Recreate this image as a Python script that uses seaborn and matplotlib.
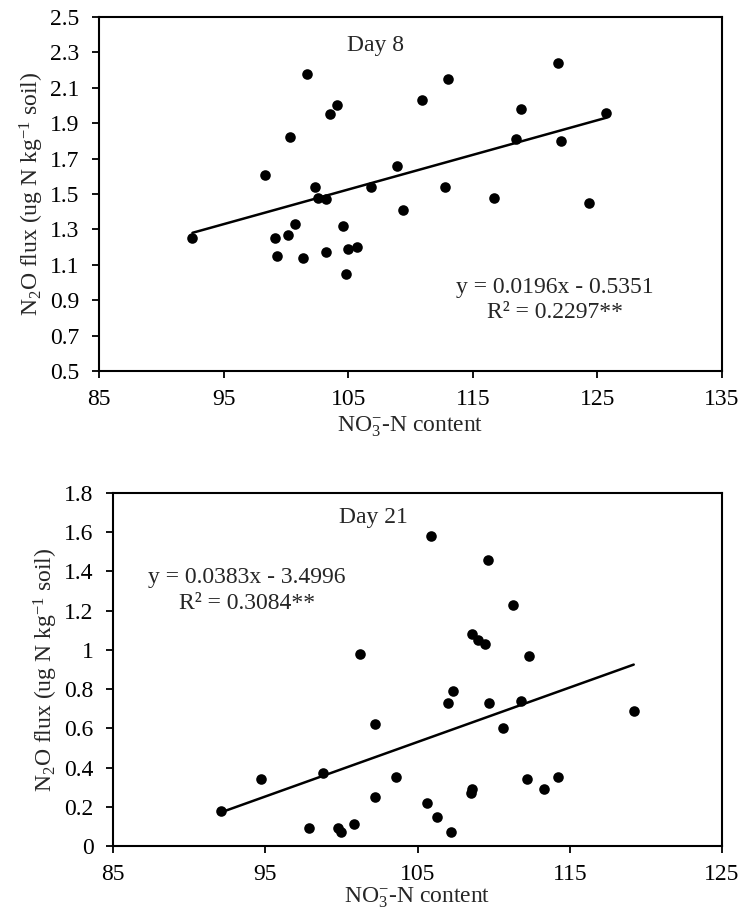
import numpy as np
import pandas as pd
import seaborn as sns
import matplotlib.pyplot as plt
from matplotlib.ticker import FuncFormatter

# Day 8 : NO3-N content vs N2O flux
day8_no3 = [92.5, 98.3, 99.1, 99.3, 100.2, 100.3, 100.7, 101.4, 101.7, 102.3, 102.6,
            103.2, 103.2, 103.5, 104.1, 104.6, 104.8, 105.0, 105.7, 106.8, 108.9,
            109.4, 110.9, 112.8, 113.0, 116.7, 118.5, 118.9, 121.8, 122.1, 124.3, 125.7]
day8_n2o = [1.25, 1.61, 1.25, 1.15, 1.27, 1.82, 1.33, 1.14, 2.18, 1.54, 1.48,
            1.47, 1.17, 1.95, 2.00, 1.32, 1.05, 1.19, 1.20, 1.54, 1.66,
            1.41, 2.03, 1.54, 2.15, 1.48, 1.81, 1.98, 2.24, 1.80, 1.45, 1.96]

# Day 21
day21_no3 = [92.1, 94.7, 97.9, 98.8, 99.8, 100.0, 100.8, 101.2, 102.2, 102.2, 103.6,
             105.6, 105.9, 106.3, 107.0, 107.2, 107.3, 108.5, 108.6, 108.6, 109.0,
             109.4, 109.6, 109.7, 110.6, 111.3, 111.8, 112.2, 112.3, 113.3, 114.2, 119.2]
day21_n2o = [0.18, 0.34, 0.09, 0.37, 0.09, 0.07, 0.11, 0.98, 0.62, 0.25, 0.35,
             0.22, 1.58, 0.15, 0.73, 0.07, 0.79, 0.27, 0.29, 1.08, 1.05,
             1.03, 1.46, 0.73, 0.60, 1.23, 0.74, 0.34, 0.97, 0.29, 0.35, 0.69]

eq8 = ["y = 0.0196x - 0.5351", "R\u00b2 = 0.2297**"]
eq21 = ["y = 0.0383x - 3.4996", "R\u00b2 = 0.3084**"]

sns.set_style("ticks")
plt.rcParams['font.family'] = ['Liberation Serif', 'DejaVu Serif']
plt.rcParams['mathtext.fontset'] = 'custom'
plt.rcParams['mathtext.rm'] = 'Liberation Serif'
plt.rcParams['mathtext.it'] = 'Liberation Serif:italic'
FS = 17

fig = plt.figure(figsize=(7.41, 9.09), dpi=100)
ax1 = fig.add_axes([0.1336, 0.5919, 0.8408, 0.3894])
ax2 = fig.add_axes([0.1525, 0.0693, 0.8219, 0.3883])

ylab = "N$_2$O flux (ug N kg$^{-1}$ soil)"
xlab = "NO$_3^{-}$-N content"
fmt = FuncFormatter(lambda v, p: "{:g}".format(round(v, 2)))

panels = [
    (ax1, day8_no3, day8_n2o, "Day 8", eq8, (85, 135, 10), (0.5, 2.5, 0.2),
     (0.444, 0.92), (0.732, 0.237, 0.164), 3),
    (ax2, day21_no3, day21_n2o, "Day 21", eq21, (85, 125, 10), (0, 1.8, 0.2),
     (0.428, 0.93), (0.22, 0.762, 0.688), 0),
]

for ax, xs, ys, title, eq, xr, yr, tpos, epos, xpad in panels:
    df = pd.DataFrame({"no3": xs, "n2o": ys})
    sns.regplot(data=df, x="no3", y="n2o", ax=ax, scatter=False, ci=None,
                color="black", line_kws={"lw": 1.8})
    sns.scatterplot(data=df, x="no3", y="n2o", ax=ax, color="black", s=58,
                    edgecolor="black", linewidth=0, zorder=3)
    ax.set_xlim(xr[0], xr[1])
    ax.set_ylim(yr[0], yr[1])
    ax.set_xticks(np.arange(xr[0], xr[1] + 0.1, xr[2]))
    ax.set_yticks(np.arange(yr[0], yr[1] + 0.01, yr[2]))
    ax.yaxis.set_major_formatter(fmt)
    ax.tick_params(direction="out", length=5, width=1.3, labelsize=FS,
                   colors="black")
    ax.tick_params(axis="y", pad=9)
    ax.tick_params(axis="x", pad=8)
    for s in ax.spines.values():
        s.set_visible(True)
        s.set_color("black")
        s.set_linewidth(1.5)
    ax.set_xlabel(xlab, fontsize=FS, labelpad=xpad)
    ax.set_ylabel(ylab, fontsize=FS, labelpad=3)
    ax.text(tpos[0], tpos[1], title, transform=ax.transAxes, ha="center",
            va="center", fontsize=FS)
    ax.text(epos[0], epos[1], eq[0], transform=ax.transAxes,
            ha="center", va="center", fontsize=FS)
    ax.text(epos[0], epos[2], eq[1], transform=ax.transAxes,
            ha="center", va="center", fontsize=FS)

fig.savefig("out.png", dpi=100)
